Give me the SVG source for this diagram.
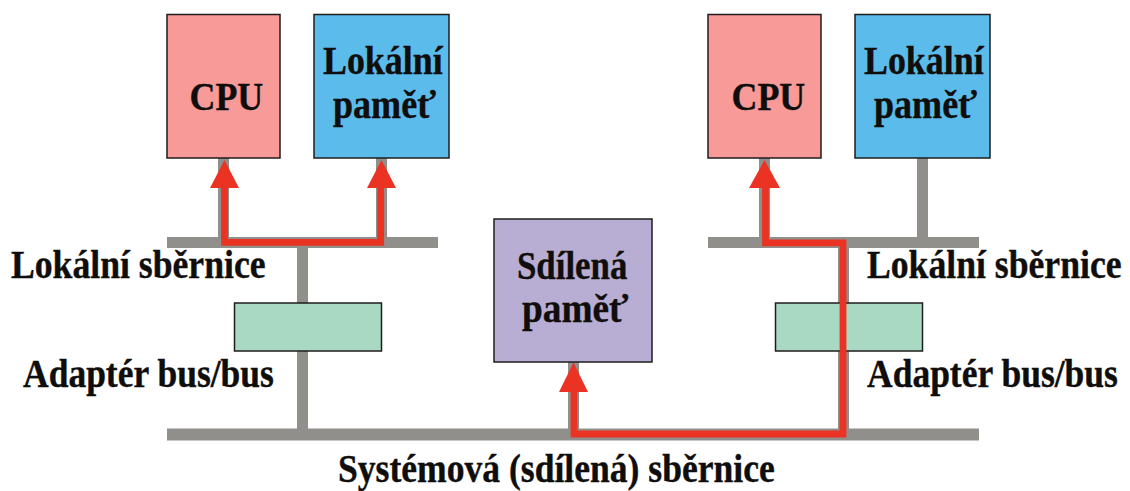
<svg xmlns="http://www.w3.org/2000/svg" width="1130" height="491" viewBox="0 0 1130 491">
<style>
text{font-family:"Liberation Serif","Times New Roman",serif;font-weight:bold;font-size:41px;fill:#100e0c;stroke:#100e0c;stroke-width:.4;text-anchor:start}
.box{stroke:#1f1d1c;stroke-width:1.5}
.cpu{fill:#f79a98}.mem{fill:#5bbbea}.shared{fill:#b8aed3}.adapter{fill:#a9d9c3}
.bus{fill:#918f8c}
.path{fill:none;stroke:#ea3323;stroke-width:6.8;stroke-linejoin:miter}
.head{fill:#ea3323}
</style>
<rect width="1130" height="491" fill="#fff"/>
<g id="connectors">
<rect class="bus" x="167" y="237" width="271" height="11"/>
<rect class="bus" x="708" y="237" width="271" height="11"/>
<rect class="bus" x="167" y="428.500" width="812" height="12"/>
<rect class="bus" x="218" y="158" width="11" height="80"/>
<rect class="bus" x="376" y="158" width="11" height="80"/>
<rect class="bus" x="759" y="158" width="11" height="80"/>
<rect class="bus" x="917" y="158" width="11" height="80"/>
<rect class="bus" x="297" y="247" width="11" height="183"/>
<rect class="bus" x="838" y="247" width="11" height="183"/>
<rect class="bus" x="568" y="362" width="11" height="68"/>
</g>
<g id="node-cpu1"><rect class="box cpu" x="167" y="14.500" width="113" height="143.500"/><text transform="translate(189.500 110) scale(.875 1)">CPU</text></g>
<g id="node-mem1"><rect class="box mem" x="314" y="14.500" width="135" height="143.500"/><text transform="translate(323 74) scale(.875 1)">Lokální</text><text transform="translate(333 118) scale(.88 1)">paměť</text></g>
<g id="node-cpu2"><rect class="box cpu" x="708" y="14.500" width="113" height="143.500"/><text transform="translate(731.500 110) scale(.875 1)">CPU</text></g>
<g id="node-mem2"><rect class="box mem" x="855" y="14.500" width="135" height="143.500"/><text transform="translate(864 74) scale(.875 1)">Lokální</text><text transform="translate(874 118) scale(.88 1)">paměť</text></g>
<g id="node-shared"><rect class="box shared" x="494" y="219" width="158" height="143"/><text transform="translate(517 279) scale(.85 1)">Sdílená</text><text transform="translate(522 322) scale(.91 1)">paměť</text></g>
<g id="node-adapter1"><rect class="box adapter" x="234.500" y="303" width="147" height="48"/></g>
<g id="node-adapter2"><rect class="box adapter" x="775.500" y="303" width="147" height="48"/></g>
<g id="routes">
<path class="path" d="M224.500 186V242.300H380.700V186"/>
<path class="path" d="M765.500 186V242.800H843V434H574V390"/>
<polygon class="head" points="224.500,160 239,188 210,188"/>
<polygon class="head" points="381.500,160 396,188 367,188"/>
<polygon class="head" points="764.500,160 780,188 749,188"/>
<polygon class="head" points="573.500,362.500 588,392 559,392"/>
</g>
<g id="labels">
<text transform="translate(11 278) scale(.87 1)">Lokální sběrnice</text>
<text transform="translate(867 278) scale(.87 1)">Lokální sběrnice</text>
<text transform="translate(23 387) scale(.866 1)">Adaptér bus/bus</text>
<text transform="translate(867 387) scale(.866 1)">Adaptér bus/bus</text>
<text transform="translate(338 482) scale(.868 1)">Systémová (sdílená) sběrnice</text>
</g>
</svg>
